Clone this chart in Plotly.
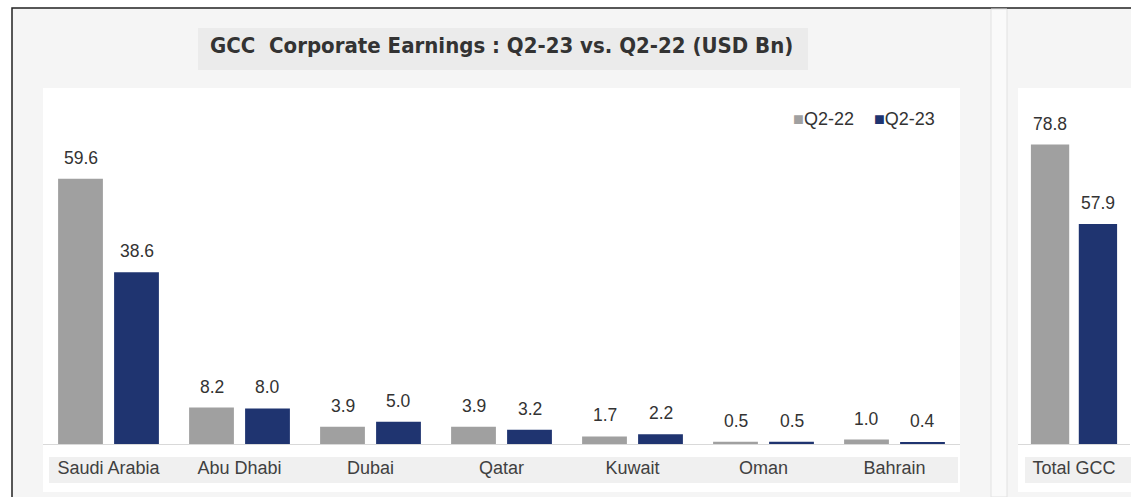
import plotly.graph_objects as go

W, H = 1131, 497

categories = ["Saudi Arabia", "Abu Dhabi", "Dubai", "Qatar", "Kuwait", "Oman", "Bahrain"]
q2_22 = [59.6, 8.2, 3.9, 3.9, 1.7, 0.5, 1.0]
q2_23 = [38.6, 8.0, 5.0, 3.2, 2.2, 0.5, 0.4]

total_cat = ["Total GCC"]
total_q2_22 = [78.8]
total_q2_23 = [57.9]

series_names = ["Q2-22", "Q2-23"]
GRAY = "#a0a0a0"
NAVY = "#1f3470"
TXT = "#333333"
FONT = "Liberation Sans, Arial, sans-serif"


def px_x(p):
    return p / W


def px_y(p):
    return 1 - p / H


fig = go.Figure()

for vals, name, col in [(q2_22, series_names[0], GRAY), (q2_23, series_names[1], NAVY)]:
    fig.add_trace(go.Bar(x=categories, y=vals, name=name, marker_color=col,
                         marker_line_width=0, xaxis="x", yaxis="y", showlegend=False,
                         hoverinfo="x+y"))
for vals, name, col in [(total_q2_22, series_names[0], GRAY), (total_q2_23, series_names[1], NAVY)]:
    fig.add_trace(go.Bar(x=total_cat, y=vals, name=name, marker_color=col,
                         marker_line_width=0, xaxis="x2", yaxis="y2", showlegend=False,
                         hoverinfo="x+y"))

# value labels
annotations = []
left_slot = 28
right_slot = 24
for i, c in enumerate(categories):
    for vals, sh in [(q2_22, -left_slot), (q2_23, left_slot)]:
        annotations.append(dict(x=c, y=vals[i], xref="x", yref="y", text=f"{vals[i]:.1f}",
                                showarrow=False, xshift=sh, yshift=9, yanchor="bottom",
                                font=dict(family=FONT, size=17.5, color=TXT)))
for i, c in enumerate(total_cat):
    for vals, sh in [(total_q2_22, -right_slot), (total_q2_23, right_slot)]:
        annotations.append(dict(x=c, y=vals[i], xref="x2", yref="y2", text=f"{vals[i]:.1f}",
                                showarrow=False, xshift=sh, yshift=9, yanchor="bottom",
                                font=dict(family=FONT, size=17.5, color=TXT)))

# title
annotations.append(dict(x=px_x(501), y=px_y(45), xref="paper", yref="paper",
                        text="<b>GCC  Corporate Earnings : Q2-23 vs. Q2-22 (USD Bn)</b>",
                        showarrow=False, xanchor="center", yanchor="middle",
                        font=dict(family="DejaVu Sans Condensed, Liberation Sans Narrow, Arial Narrow, sans-serif",
                                  size=22, color="#333333")))

# legend (as text)
annotations.append(dict(x=px_x(791), y=px_y(119), xref="paper", yref="paper",
                        text=f"<span style='color:{GRAY}'>■</span>{series_names[0]}&nbsp;&nbsp;&nbsp;&nbsp;"
                             f"<span style='color:{NAVY}'>■</span>{series_names[1]}",
                        showarrow=False, xanchor="left", yanchor="middle",
                        font=dict(family=FONT, size=18, color=TXT)))

shapes = [
    # outer panel with border
    dict(type="rect", xref="paper", yref="paper", x0=px_x(12), x1=px_x(1140), y0=px_y(8), y1=px_y(510),
         fillcolor="#f5f5f5", line=dict(color="#222222", width=1.5), layer="below"),
    # title box
    dict(type="rect", xref="paper", yref="paper", x0=px_x(198), x1=px_x(808), y0=px_y(28), y1=px_y(70),
         fillcolor="#ebebeb", line=dict(width=0), layer="below"),
    # left white panel
    dict(type="rect", xref="paper", yref="paper", x0=px_x(43), x1=px_x(960), y0=px_y(88), y1=px_y(492),
         fillcolor="#ffffff", line=dict(width=0), layer="below"),
    # left label strip
    dict(type="rect", xref="paper", yref="paper", x0=px_x(49), x1=px_x(958), y0=px_y(457), y1=px_y(483),
         fillcolor="#f0f0f0", line=dict(width=0), layer="below"),
    # separator
    dict(type="rect", xref="paper", yref="paper", x0=px_x(991), x1=px_x(1007), y0=px_y(9), y1=px_y(497),
         fillcolor="#fafafa", line=dict(color="#e2e2e2", width=1), layer="below"),
    # right white panel
    dict(type="rect", xref="paper", yref="paper", x0=px_x(1018), x1=px_x(1140), y0=px_y(88), y1=px_y(492),
         fillcolor="#ffffff", line=dict(width=0), layer="below"),
    # right label strip
    dict(type="rect", xref="paper", yref="paper", x0=px_x(1025), x1=px_x(1140), y0=px_y(457), y1=px_y(483),
         fillcolor="#f0f0f0", line=dict(width=0), layer="below"),
]

base = 444
fig.update_layout(
    width=W, height=H,
    margin=dict(l=0, r=0, t=0, b=0),
    paper_bgcolor="#ffffff",
    plot_bgcolor="rgba(0,0,0,0)",
    barmode="group",
    bargap=0.145,
    bargroupgap=0.2,
    showlegend=False,
    annotations=annotations,
    shapes=shapes,
    font=dict(family=FONT, color=TXT),
    xaxis=dict(domain=[px_x(43), px_x(960)], anchor="y", showline=True, linecolor="#d9d9d9",
               linewidth=1, ticks="", showgrid=False, zeroline=False, fixedrange=True,
               tickfont=dict(family=FONT, size=18, color="#404040"), ticklabelstandoff=7),
    yaxis=dict(domain=[px_y(base), px_y(88)], range=[0, 80], visible=False, fixedrange=True),
    xaxis2=dict(domain=[px_x(1018), px_x(1130)], anchor="y2", range=[-0.5, 0.5], showline=True,
                linecolor="#d9d9d9", linewidth=1, ticks="", showgrid=False, zeroline=False,
                fixedrange=True, tickfont=dict(family=FONT, size=18, color="#404040"),
                ticklabelstandoff=7),
    yaxis2=dict(domain=[px_y(base), px_y(88)], range=[0, 93.7], visible=False, fixedrange=True),
)

fig.write_html("out.html", config={"displayModeBar": False},
               post_script="document.body.style.margin='0';document.body.style.overflow='hidden';")
